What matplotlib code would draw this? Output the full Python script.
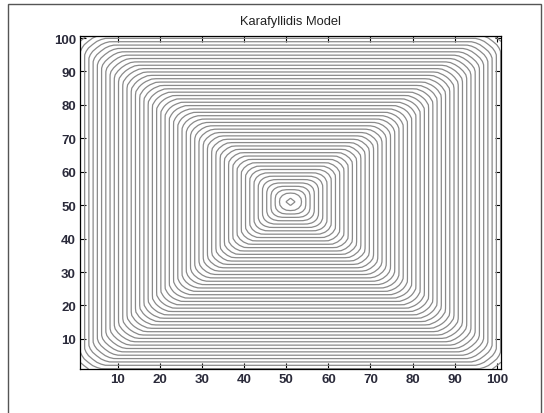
import numpy as np
import matplotlib
matplotlib.use('Agg')
import matplotlib.pyplot as plt
from matplotlib.patches import Rectangle

# grid and model settings
grid_size = 101
ignition_cell = (51, 51)          # 1-based (row, col)
diag_weight = 0.83                # Karafyllidis diagonal neighbour factor
n_steps = 120
n_levels = 50
ticks = [10, 20, 30, 40, 50, 60, 70, 80, 90, 100]
title_text = 'Karafyllidis Model'


def run_ca(n, start, w_diag, steps):
    s = np.zeros((n, n))
    s[start[0] - 1, start[1] - 1] = 1.0
    t_burn = np.full((n, n), np.nan)
    t_burn[start[0] - 1, start[1] - 1] = 0
    for t in range(1, steps + 1):
        p = np.pad(s, 1)
        orth = p[:-2, 1:-1] + p[2:, 1:-1] + p[1:-1, :-2] + p[1:-1, 2:]
        diag = p[:-2, :-2] + p[:-2, 2:] + p[2:, :-2] + p[2:, 2:]
        raw = s + orth + w_diag * diag
        hit = (raw >= 1.0) & np.isnan(t_burn)
        # fractional burn time: when the state crossed 1 within the step
        frac = (1.0 - s[hit]) / (raw[hit] - s[hit])
        t_burn[hit] = t - 1 + frac
        s = np.minimum(raw, 1.0)
        if not np.isnan(t_burn).any():
            break
    return t_burn


T = run_ca(grid_size, ignition_cell, diag_weight, n_steps)
xs = np.arange(1, grid_size + 1)
levels = np.linspace(np.nanmin(T), np.nanmax(T), n_levels + 2)[1:-1]

plt.rcParams['font.family'] = ['Liberation Sans', 'DejaVu Sans']
fig = plt.figure(figsize=(5.44, 4.14), dpi=100)
ax = fig.add_axes([80 / 544, 44 / 414, 421 / 544, 333 / 414])
ax.contour(xs, xs, T, levels, colors='#8a8a8a', linewidths=0.9)

ax.set_xlim(1, 101)
ax.set_ylim(1, 100.6)
ax.set_xticks(ticks)
ax.set_yticks(ticks)
ax.tick_params(direction='in', top=True, right=True, length=4, width=0.8,
               labelsize=9.5, colors='black', labelcolor='#2a2a3a', pad=3)
for lab in ax.get_xticklabels() + ax.get_yticklabels():
    lab.set_fontweight('bold')
for sp in ax.spines.values():
    sp.set_linewidth(0.9)
ax.set_title(title_text, fontsize=9.3, pad=9, color='#222')

# window frame
fig.patches.append(Rectangle((8 / 544, -0.1), 533 / 544, 1.1 - 5 / 414, transform=fig.transFigure,
                             fill=False, edgecolor='#555555', linewidth=1.0))

fig.savefig('out.png', dpi=100)
